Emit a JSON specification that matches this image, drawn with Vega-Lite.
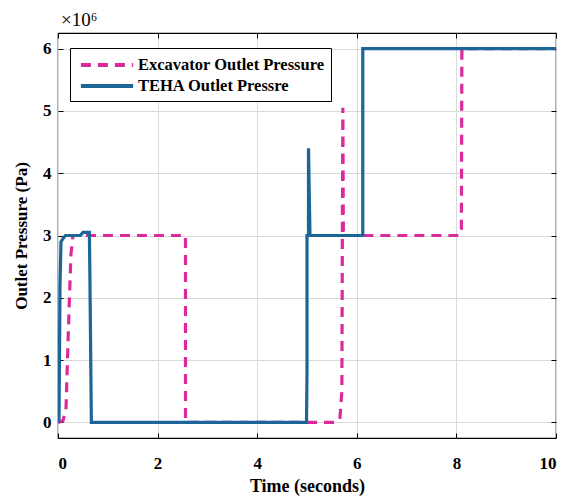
{
  "$schema": "https://vega.github.io/schema/vega-lite/v6.json",
  "width": 498,
  "height": 405,
  "autosize": {"type": "none"},
  "padding": {"left": 58, "top": 33, "right": 21, "bottom": 62},
  "background": "white",
  "title": {"text": "×10⁶", "anchor": "start", "frame": "group", "dx": 3, "offset": 3, "font": "Times New Roman, Liberation Serif, serif", "fontSize": 19, "fontWeight": "normal", "color": "black"},
  "config": {
    "view": {"stroke": "black", "strokeWidth": 1.2},
    "font": "Times New Roman, Liberation Serif, serif"
  },
  "data": {"values": [
    {"series": "Excavator Outlet Pressure", "i": 1, "t": 0, "p": 0},
    {"series": "Excavator Outlet Pressure", "i": 2, "t": 0.1, "p": 0.03},
    {"series": "Excavator Outlet Pressure", "i": 3, "t": 0.16, "p": 0.2},
    {"series": "Excavator Outlet Pressure", "i": 4, "t": 0.19, "p": 1.0},
    {"series": "Excavator Outlet Pressure", "i": 5, "t": 0.23, "p": 2.0},
    {"series": "Excavator Outlet Pressure", "i": 6, "t": 0.26, "p": 2.7},
    {"series": "Excavator Outlet Pressure", "i": 7, "t": 0.3, "p": 3.0},
    {"series": "Excavator Outlet Pressure", "i": 8, "t": 2.56, "p": 3.0},
    {"series": "Excavator Outlet Pressure", "i": 9, "t": 2.56, "p": 0},
    {"series": "Excavator Outlet Pressure", "i": 10, "t": 5.55, "p": 0},
    {"series": "Excavator Outlet Pressure", "i": 11, "t": 5.66, "p": 0.05},
    {"series": "Excavator Outlet Pressure", "i": 12, "t": 5.7, "p": 0.5},
    {"series": "Excavator Outlet Pressure", "i": 13, "t": 5.71, "p": 3.0},
    {"series": "Excavator Outlet Pressure", "i": 14, "t": 5.72, "p": 5.05},
    {"series": "Excavator Outlet Pressure", "i": 15, "t": 5.73, "p": 3.0},
    {"series": "Excavator Outlet Pressure", "i": 16, "t": 8.06, "p": 3.0},
    {"series": "Excavator Outlet Pressure", "i": 17, "t": 8.1, "p": 3.1},
    {"series": "Excavator Outlet Pressure", "i": 18, "t": 8.11, "p": 6.0},
    {"series": "Excavator Outlet Pressure", "i": 19, "t": 10, "p": 6.0},
    {"series": "TEHA Outlet Pressre", "i": 1, "t": 0, "p": 0},
    {"series": "TEHA Outlet Pressre", "i": 2, "t": 0.02, "p": 0.05},
    {"series": "TEHA Outlet Pressre", "i": 3, "t": 0.04, "p": 2.2},
    {"series": "TEHA Outlet Pressre", "i": 4, "t": 0.06, "p": 2.9},
    {"series": "TEHA Outlet Pressre", "i": 5, "t": 0.1, "p": 2.95},
    {"series": "TEHA Outlet Pressre", "i": 6, "t": 0.15, "p": 3.0},
    {"series": "TEHA Outlet Pressre", "i": 7, "t": 0.45, "p": 3.0},
    {"series": "TEHA Outlet Pressre", "i": 8, "t": 0.5, "p": 3.05},
    {"series": "TEHA Outlet Pressre", "i": 9, "t": 0.63, "p": 3.05},
    {"series": "TEHA Outlet Pressre", "i": 10, "t": 0.64, "p": 2.4},
    {"series": "TEHA Outlet Pressre", "i": 11, "t": 0.67, "p": 0},
    {"series": "TEHA Outlet Pressre", "i": 12, "t": 4.99, "p": 0},
    {"series": "TEHA Outlet Pressre", "i": 13, "t": 5.0, "p": 0.8},
    {"series": "TEHA Outlet Pressre", "i": 14, "t": 5.0, "p": 3.0},
    {"series": "TEHA Outlet Pressre", "i": 15, "t": 5.03, "p": 3.0},
    {"series": "TEHA Outlet Pressre", "i": 16, "t": 5.03, "p": 4.4},
    {"series": "TEHA Outlet Pressre", "i": 17, "t": 5.06, "p": 3.0},
    {"series": "TEHA Outlet Pressre", "i": 18, "t": 6.12, "p": 3.0},
    {"series": "TEHA Outlet Pressre", "i": 19, "t": 6.12, "p": 6.0},
    {"series": "TEHA Outlet Pressre", "i": 20, "t": 10, "p": 6.0}
  ]},
  "layer": [
    {
      "mark": {"type": "line", "strokeWidth": 3.2, "clip": true},
      "encoding": {
        "x": {
          "field": "t", "type": "quantitative",
          "scale": {"domain": [0, 10], "nice": false, "zero": false},
          "axis": {
            "title": "Time (seconds)", "values": [0, 2, 4, 6, 8, 10], "format": "d",
            "grid": true, "gridColor": "#d9d9d9", "gridWidth": 1,
            "domain": false, "tickSize": -5, "tickColor": "black",
            "labelFont": "Times New Roman, Liberation Serif, serif", "labelFontSize": 17, "labelFontWeight": "bold", "labelColor": "black",
            "labelPadding": 22,
            "titleFont": "Times New Roman, Liberation Serif, serif", "titleFontSize": 18, "titleFontWeight": "bold", "titleColor": "black", "titlePadding": 6
          }
        },
        "y": {
          "field": "p", "type": "quantitative",
          "scale": {"domain": [-0.25, 6.25], "nice": false, "zero": false},
          "axis": {
            "title": "Outlet Pressure (Pa)", "values": [0, 1, 2, 3, 4, 5, 6], "format": "d",
            "grid": true, "gridColor": "#d9d9d9", "gridWidth": 1,
            "domain": false, "tickSize": -5, "tickColor": "black",
            "labelFont": "Times New Roman, Liberation Serif, serif", "labelFontSize": 17, "labelFontWeight": "bold", "labelColor": "black",
            "labelPadding": 12,
            "titleFont": "Times New Roman, Liberation Serif, serif", "titleFontSize": 17, "titleFontWeight": "bold", "titleColor": "black", "titlePadding": 12
          }
        },
        "order": {"field": "i", "type": "quantitative"},
        "color": {
          "field": "series", "type": "nominal",
          "scale": {"domain": ["Excavator Outlet Pressure", "TEHA Outlet Pressre"], "range": ["#dc2a9c", "#1b6697"]},
          "legend": {
            "title": null, "orient": "none", "legendX": 12, "legendY": 15,
            "direction": "vertical",
            "strokeColor": "black", "fillColor": "white", "padding": 6,
            "symbolType": "M-2.9,0H2.9", "symbolSize": 324, "symbolStrokeWidth": 4,
            "symbolOffset": 20,
            "labelFont": "Times New Roman, Liberation Serif, serif", "labelFontSize": 16.5, "labelFontWeight": "bold", "labelColor": "black",
            "labelOffset": 20, "rowPadding": 1, "labelLimit": 400
          }
        },
        "strokeDash": {
          "field": "series", "type": "nominal",
          "scale": {"domain": ["Excavator Outlet Pressure", "TEHA Outlet Pressre"], "range": [[10, 7], [1, 0]]},
          "legend": null
        }
      }
    },
    {
      "mark": {"type": "line", "opacity": 0},
      "encoding": {
        "x": {
          "field": "t", "type": "quantitative",
          "axis": {"orient": "top", "title": null, "labels": false, "grid": false, "domain": false, "values": [0, 2, 4, 6, 8, 10], "tickSize": -5, "tickColor": "black"}
        },
        "y": {
          "field": "p", "type": "quantitative",
          "axis": {"orient": "right", "title": null, "labels": false, "grid": false, "domain": false, "values": [0, 1, 2, 3, 4, 5, 6], "tickSize": -5, "tickColor": "black"}
        }
      }
    }
  ],
  "resolve": {"axis": {"x": "independent", "y": "independent"}}
}
